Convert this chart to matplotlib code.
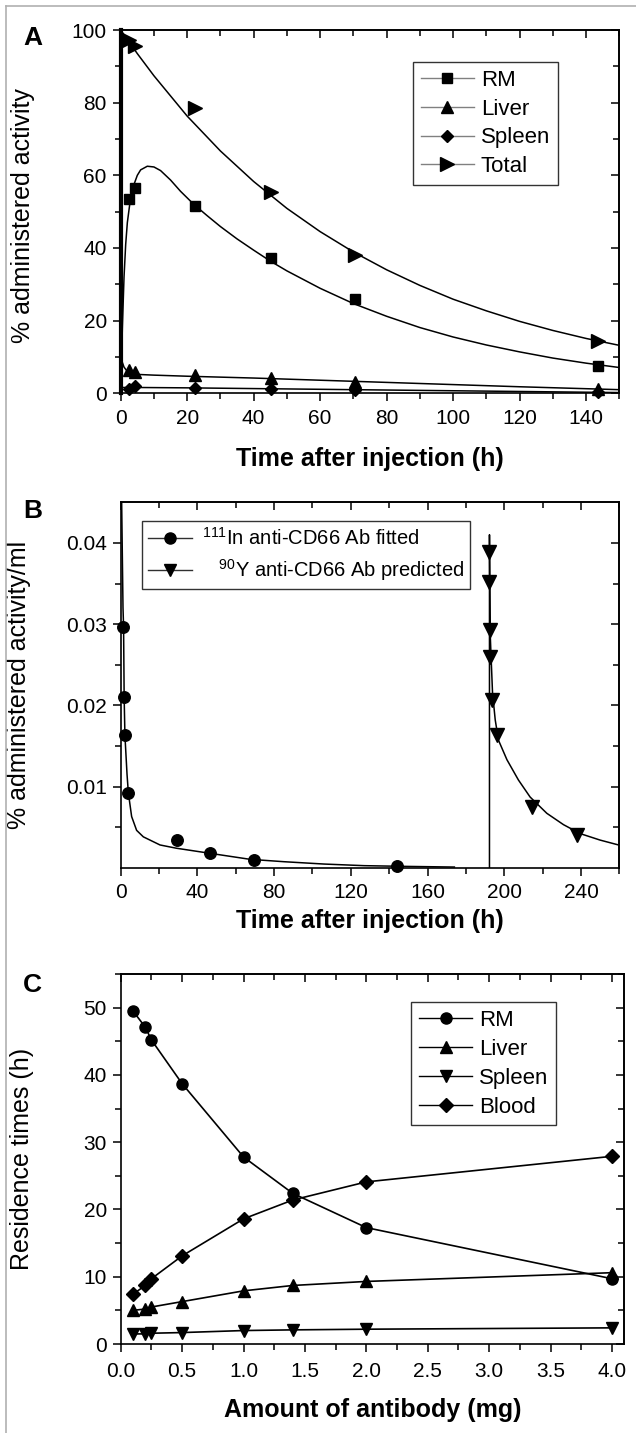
import matplotlib.pyplot as plt
from matplotlib.lines import Line2D
from matplotlib.ticker import FormatStrFormatter, FixedLocator

plt.rcParams['font.family'] = ['Liberation Sans', 'DejaVu Sans']
plt.rcParams['mathtext.fontset'] = 'custom'
plt.rcParams['mathtext.rm'] = 'Liberation Sans'
plt.rcParams['mathtext.it'] = 'Liberation Sans:italic'
plt.rcParams['mathtext.bf'] = 'Liberation Sans:bold'

# ---- panel A: measured points ----
a_time = [2.5, 4.3, 22.5, 45.2, 70.5, 143.5]
a_rm = [53.6, 56.4, 51.6, 37.3, 25.9, 7.6]
a_liver = [6.4, 5.9, 5.0, 4.3, 3.2, 1.3]
a_spleen = [1.3, 2.0, 1.5, 1.2, 0.9, 0.3]
a_total = [97.3, 95.6, 78.6, 55.5, 38.2, 14.5]

# ---- panel A: fitted curves ----
a_total_t = [0, 5, 10, 20, 30, 40, 50, 60, 70, 80, 90, 100, 110, 120, 130, 140, 150]
a_total_fit = [100, 93.5, 87.4, 76.3, 66.7, 58.3, 50.9, 44.5, 38.9, 34.0, 29.7,
               25.9, 22.7, 19.8, 17.3, 15.1, 13.2]
a_rm_t = [0, 0.5, 1, 1.5, 2, 3, 4, 5, 6, 8, 10, 12, 15, 18, 22, 26, 30, 35, 40,
          45, 50, 60, 70, 80, 90, 100, 110, 120, 130, 140, 150]
a_rm_fit = [0, 18, 32, 41, 47, 54, 57.5, 60, 61.5, 62.5, 62.3, 61.3, 58.7, 55.6,
            52, 48.9, 45.9, 42.5, 39.4, 36.4, 33.7, 28.9, 24.7, 21.2, 18.1, 15.5,
            13.3, 11.4, 9.7, 8.3, 7.1]
a_liver_t = [0, 0.5, 1, 2, 3, 5, 10, 20, 40, 60, 80, 100, 120, 150]
a_liver_fit = [10.5, 8.5, 7.2, 6.0, 5.5, 5.2, 5.0, 4.7, 4.2, 3.6, 3.0, 2.4, 1.8, 1.0]
a_spleen_t = [0, 5, 20, 40, 60, 80, 100, 120, 150]
a_spleen_fit = [1.6, 1.6, 1.5, 1.3, 1.1, 0.9, 0.7, 0.5, 0.2]

# ---- panel B ----
b_in_t = [1.4, 1.7, 2.2, 4.0, 29.2, 46.6, 69.6, 144.3]
b_in = [0.0297, 0.0210, 0.0163, 0.0092, 0.0034, 0.0018, 0.0009, 0.00025]
b_in_fit_t = [0.3, 0.5, 1.2, 1.5, 1.8, 2.2, 3.3, 4.0, 5.7, 8.3, 11.8, 20.5, 29,
              46.6, 67.5, 85, 106, 127, 149, 174]
b_in_fit = [0.050, 0.045, 0.032, 0.0297, 0.021, 0.0163, 0.0115, 0.0092, 0.0063,
            0.0046, 0.0038, 0.0028, 0.0024, 0.00177, 0.00103, 0.00074, 0.00045,
            0.00025, 0.00016, 0.00008]
b_y_t = [192.3, 192.3, 192.5, 192.8, 193.5, 196.4, 214.4, 237.9]
b_y = [0.0389, 0.0352, 0.0293, 0.0260, 0.0206, 0.0163, 0.0075, 0.0040]
b_y_fit_t = [192.3, 192.3, 192.6, 193.2, 193.9, 195.3, 197.0, 201.4, 207.4, 213.5,
             222.2, 230.9, 239.6, 250.0, 259.6, 262]
b_y_fit = [0.0, 0.0410, 0.0293, 0.0256, 0.0215, 0.0182, 0.0157, 0.0133, 0.0108,
           0.0087, 0.0067, 0.0053, 0.0042, 0.0034, 0.0028, 0.0027]

# ---- panel C ----
c_dose = [0.1, 0.2, 0.25, 0.5, 1.0, 1.4, 2.0, 4.0]
c_rm = [49.5, 47.1, 45.2, 38.7, 27.8, 22.4, 17.3, 9.7]
c_liver = [5.0, 5.2, 5.5, 6.3, 7.9, 8.7, 9.3, 10.6]
c_spleen = [1.5, 1.5, 1.6, 1.7, 2.0, 2.1, 2.2, 2.4]
c_blood = [7.4, 8.7, 9.7, 13.1, 18.6, 21.4, 24.1, 27.9]

W, H = 636, 1433
TICK_FS = 15
LABEL_FS = 18


def frame(ax, xmaj, xmin, ymaj, ymin):
    """Bottom/left ticks point out, top/right ticks point in"""
    ax.xaxis.set_major_locator(FixedLocator(xmaj))
    ax.xaxis.set_minor_locator(FixedLocator(xmin))
    ax.yaxis.set_major_locator(FixedLocator(ymaj))
    ax.yaxis.set_minor_locator(FixedLocator(ymin))
    ax.tick_params(which='both', direction='out', width=1.1, labelsize=TICK_FS)
    ax.tick_params(axis='x', which='major', length=6, pad=5)
    ax.tick_params(axis='y', which='major', length=6, pad=4)
    ax.tick_params(which='minor', length=4)
    for s in ax.spines.values():
        s.set_linewidth(1.2)

    top = ax.secondary_xaxis('top')
    top.xaxis.set_major_locator(FixedLocator(xmaj))
    top.xaxis.set_minor_locator(FixedLocator(xmin))
    top.tick_params(which='both', direction='in', labeltop=False, width=1.1)
    top.tick_params(which='major', length=6)
    top.tick_params(which='minor', length=4)
    top.spines['top'].set_linewidth(1.2)

    right = ax.secondary_yaxis('right')
    right.yaxis.set_major_locator(FixedLocator(ymaj))
    right.yaxis.set_minor_locator(FixedLocator(ymin))
    right.tick_params(which='both', direction='in', labelright=False, width=1.1)
    right.tick_params(which='major', length=6)
    right.tick_params(which='minor', length=4)
    right.spines['right'].set_linewidth(1.2)


def box(l, t, r, b):
    return [l / W, 1 - b / H, (r - l) / W, (b - t) / H]


fig = plt.figure(figsize=(W / 100, H / 100), dpi=100)

# light frame around the figure
fig.add_artist(Line2D([6 / W, 6 / W], [0, 1 - 6 / H], color='#b0b0b0', lw=1.2))
fig.add_artist(Line2D([6 / W, 1], [1 - 6 / H, 1 - 6 / H], color='#b0b0b0', lw=1.2))

# ================= A =================
ax = fig.add_axes(box(120.7, 30, 619.3, 393.3))
ax.plot(a_total_t, a_total_fit, color='black', lw=1.1)
ax.plot(a_rm_t, a_rm_fit, color='black', lw=1.1)
ax.plot(a_liver_t, a_liver_fit, color='black', lw=1.1)
ax.plot(a_spleen_t, a_spleen_fit, color='black', lw=1.1)
ax.plot(a_time, a_rm, 's', color='black', ms=7.5, clip_on=False)
ax.plot(a_time, a_liver, '^', color='black', ms=9, clip_on=False)
ax.plot(a_time, a_spleen, 'D', color='black', ms=6.3, clip_on=False)
ax.plot(a_time, a_total, '>', color='black', ms=9.5, clip_on=False)
ax.set_xlim(0, 150)
ax.set_ylim(0, 100)
frame(ax, range(0, 141, 20), range(10, 151, 20), range(0, 101, 20), range(10, 91, 20))
ax.spines['left'].set_linewidth(3)
ax.set_xlabel('Time after injection (h)', fontsize=LABEL_FS, fontweight='bold')
ax.set_ylabel('% administered activity', fontsize=LABEL_FS)
ax.xaxis.set_label_coords(0.5, -0.148)
ax.xaxis.label.set_va('top')
ax.yaxis.set_label_coords(-0.172, 0.49)

gray = '#808080'
handles = [
    Line2D([], [], color=gray, lw=1, marker='s', mfc='black', mec='black', ms=7.5),
    Line2D([], [], color=gray, lw=1, marker='^', mfc='black', mec='black', ms=9),
    Line2D([], [], color=gray, lw=1, marker='D', mfc='black', mec='black', ms=6.3),
    Line2D([], [], color=gray, lw=1, marker='>', mfc='black', mec='black', ms=9.5),
]
leg = ax.legend(handles, ['RM', 'Liver', 'Spleen', 'Total'], loc='upper left',
                bbox_to_anchor=(0.586, 0.912), fontsize=16, frameon=True,
                fancybox=False, edgecolor='black', borderaxespad=0, borderpad=0.35,
                handlelength=2.4, handletextpad=0.3, labelspacing=0.35)
leg.get_frame().set_linewidth(1.0)
fig.text(23 / W, 1 - 26 / H, 'A', fontsize=19, fontweight='bold', va='top')

# ================= B =================
ax = fig.add_axes(box(120.7, 502.3, 619.3, 867.7))
ax.plot(b_in_fit_t, b_in_fit, color='black', lw=1.1)
ax.plot(b_y_fit_t, b_y_fit, color='black', lw=1.1)
ax.plot(b_in_t, b_in, 'o', color='black', ms=8.3, clip_on=False)
ax.plot(b_y_t, b_y, 'v', color='black', ms=9.5, clip_on=False)
ax.set_xlim(0, 260)
ax.set_ylim(0, 0.045)
frame(ax, range(0, 241, 40), range(20, 261, 40), [0.01, 0.02, 0.03, 0.04],
      [0.005, 0.015, 0.025, 0.035])
ax.yaxis.set_major_formatter(FormatStrFormatter('%.2f'))
ax.set_xlabel('Time after injection (h)', fontsize=LABEL_FS, fontweight='bold')
ax.set_ylabel('% administered activity/ml', fontsize=LABEL_FS)
ax.xaxis.set_label_coords(0.5, -0.114)
ax.xaxis.label.set_va('top')
ax.yaxis.set_label_coords(-0.18, 0.5)

handles = [
    Line2D([], [], color='#303030', lw=1, marker='o', mfc='black', mec='black', ms=8),
    Line2D([], [], color='#303030', lw=1, marker='v', mfc='black', mec='black', ms=9),
]
leg = ax.legend(handles, [r'$^{111}$In anti-CD66 Ab fitted',
                          r'   $^{90}$Y anti-CD66 Ab predicted'],
                loc='upper left', bbox_to_anchor=(0.042, 0.949), fontsize=14.5,
                frameon=True, fancybox=False, edgecolor='black', borderaxespad=0,
                borderpad=0.3, handlelength=2.2, handletextpad=0.5, labelspacing=0.4)
leg.get_frame().set_linewidth(1.0)
fig.text(23 / W, 1 - 499 / H, 'B', fontsize=19, fontweight='bold', va='top')

# ================= C =================
ax = fig.add_axes(box(120.7, 974, 624.3, 1344))
ax.plot(c_dose, c_rm, '-o', color='black', lw=1.2, ms=8, clip_on=False)
ax.plot(c_dose, c_liver, '-^', color='black', lw=1.2, ms=9, clip_on=False)
ax.plot(c_dose, c_spleen, '-v', color='black', lw=1.2, ms=9, clip_on=False)
ax.plot(c_dose, c_blood, '-D', color='black', lw=1.2, ms=7, clip_on=False)
ax.set_xlim(0, 4.1)
ax.set_ylim(0, 55)
frame(ax, [0, 0.5, 1, 1.5, 2, 2.5, 3, 3.5, 4],
      [0.25, 0.75, 1.25, 1.75, 2.25, 2.75, 3.25, 3.75],
      range(0, 51, 10), range(5, 56, 10))
ax.xaxis.set_major_formatter(FormatStrFormatter('%.1f'))
ax.tick_params(axis='x', which='major', pad=7)
ax.set_xlabel('Amount of antibody (mg)', fontsize=LABEL_FS, fontweight='bold')
ax.set_ylabel('Residence times (h)', fontsize=LABEL_FS)
ax.xaxis.set_label_coords(0.5, -0.145)
ax.xaxis.label.set_va('top')
ax.yaxis.set_label_coords(-0.173, 0.5)

handles = [
    Line2D([], [], color='black', lw=1, marker='o', ms=8),
    Line2D([], [], color='black', lw=1, marker='^', ms=9),
    Line2D([], [], color='black', lw=1, marker='v', ms=9),
    Line2D([], [], color='black', lw=1, marker='D', ms=7),
]
leg = ax.legend(handles, ['RM', 'Liver', 'Spleen', 'Blood'], loc='upper left',
                bbox_to_anchor=(0.577, 0.923), fontsize=16, frameon=True,
                fancybox=False, edgecolor='black', borderaxespad=0, borderpad=0.35,
                handlelength=2.4, handletextpad=0.3, labelspacing=0.35)
leg.get_frame().set_linewidth(1.0)
fig.text(23 / W, 1 - 973 / H, 'C', fontsize=19, fontweight='bold', va='top')

fig.savefig('out.png', dpi=100)
